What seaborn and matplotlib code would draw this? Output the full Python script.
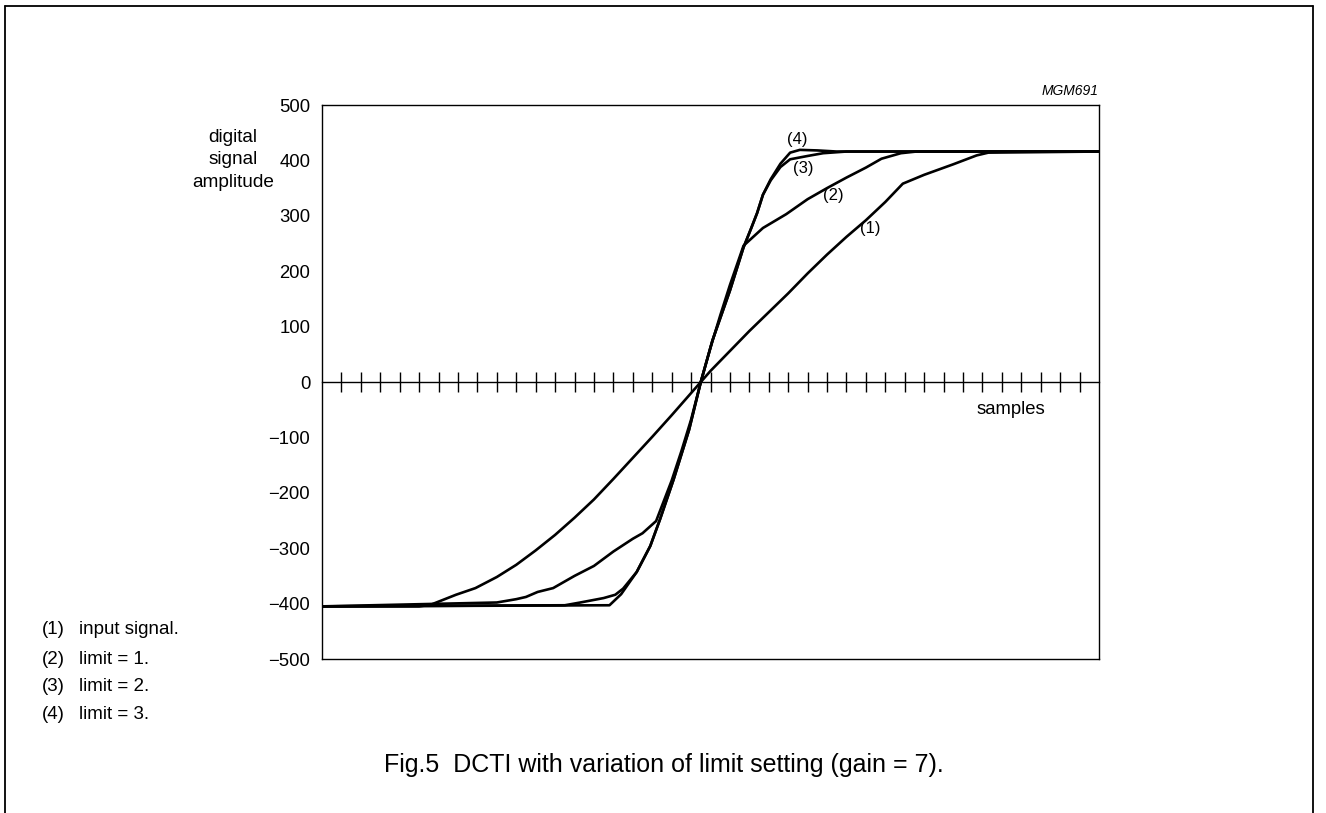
import matplotlib
matplotlib.use("Agg")
import matplotlib.pyplot as plt
from matplotlib.lines import Line2D
import seaborn as sns

# ── data (x in samples, y in amplitude) ─────────────────────────────────
x_input = [0, 5, 5.6, 6.9, 7.9, 9, 10, 11, 12, 13, 14, 15, 16, 17, 18, 19, 19.5,
           20, 21, 22, 23, 24, 25, 26, 27, 28, 29, 29.9, 31, 32.5, 33.7, 34.3, 40]
y_input = [-405, -405, -402, -384, -372, -352, -330, -304, -276, -245, -212, -175,
           -137, -99, -60, -20, 0, 20, 56, 92, 126, 160, 196, 230, 262, 292, 325,
           358, 374, 393, 409, 414, 416]

x_lim1 = [0, 9, 10, 10.5, 11.1, 11.9, 13, 14, 15, 16, 16.5, 17.2, 18, 18.5, 19,
          19.5, 20, 20.5, 21, 21.7, 22.7, 23.9, 25, 26, 27, 28, 28.8, 29.8, 30.6, 40]
y_lim1 = [-405, -398, -392, -388, -379, -372, -350, -332, -306, -283, -273, -251,
          -178, -125, -68, 0, 62, 120, 175, 246, 278, 303, 330, 350, 369, 387, 403,
          413, 416, 416]

x_lim2 = [0, 12.5, 13.3, 14.5, 15.1, 15.5, 16.2, 16.9, 17.4, 18.1, 18.9, 19.5,
          20.1, 21.0, 21.7, 22.1, 22.4, 22.7, 23.1, 23.6, 24.1, 25, 25.8, 27, 40]
y_lim2 = [-405, -403, -398, -390, -384, -373, -343, -296, -248, -176, -86, 0,
          75, 165, 243, 278, 305, 338, 364, 388, 402, 408, 413, 416, 416]

x_lim3 = [0, 14.8, 15.4, 16.2, 16.9, 17.4, 18.1, 18.9, 19.5, 20.1, 21.0, 21.7,
          22.1, 22.4, 22.7, 23.1, 23.6, 24.1, 24.6, 25.5, 26.5, 40]
y_lim3 = [-405, -403, -383, -343, -296, -248, -176, -86, 0, 75, 165, 243,
          278, 305, 338, 366, 394, 414, 419, 418, 416, 416]

curve_tags = ["(1)", "(2)", "(3)", "(4)"]
tag_x = [28.2, 26.3, 24.8, 24.45]
tag_y = [277, 336, 386, 438]
note_texts = ["input signal.", "limit = 1.", "limit = 2.", "limit = 3."]

y_ticks = list(range(-500, 501, 100))
sample_ticks = list(range(1, 40))

# ── style ───────────────────────────────────────────────────────────────
sns.set_style("white")
plt.rcParams['font.family'] = ['Liberation Sans', 'DejaVu Sans']
plt.rcParams['text.color'] = 'black'

W, H = 1326, 813
fig = plt.figure(figsize=(W / 100, H / 100), dpi=100)
ax = fig.add_axes([322 / W, 1 - 659 / H, (1099 - 322) / W, (659 - 105) / H])

for xs, ys in [(x_input, y_input), (x_lim1, y_lim1), (x_lim2, y_lim2), (x_lim3, y_lim3)]:
    sns.lineplot(x=xs, y=ys, ax=ax, color="black", linewidth=1.9,
                 sort=False, estimator=None)

ax.set_xlim(0, 40)
ax.set_ylim(-500, 500)
ax.set_xticks([])
ax.set_yticks(y_ticks)
ax.tick_params(axis="y", direction="in", length=8, width=1, labelsize=13.3,
               pad=8.5, colors="black")
for s in ax.spines.values():
    s.set_color("black")
    s.set_linewidth(1.0)

# zero line with sample ticks
secax = ax.secondary_xaxis(0.5)
secax.set_xticks(sample_ticks)
secax.tick_params(direction="inout", length=14, width=1, colors="black",
                  labeltop=False, labelbottom=False)
for s in secax.spines.values():
    s.set_color("black")
    s.set_linewidth(1.0)

# curve tags
for t, tx, ty in zip(curve_tags, tag_x, tag_y):
    ax.text(tx, ty, t, fontsize=12, ha="center", va="center")

ax.text(1.0, 1.012, "MGM691", transform=ax.transAxes, fontsize=10,
        style="italic", ha="right", va="bottom")
ax.text(0.886, 0.45, "samples", transform=ax.transAxes, fontsize=13.3,
        ha="center", va="center")

fig.text(233 / W, 1 - 160 / H, "digital\nsignal\namplitude", fontsize=13.7,
         ha="center", va="center", linespacing=1.4)

# notes on lower left
note_y = [629, 659, 686, 714]
for t, lab, ny in zip(curve_tags, note_texts, note_y):
    fig.text(42 / W, 1 - ny / H, t, fontsize=13.5, ha="left", va="center")
    fig.text(79 / W, 1 - ny / H, lab, fontsize=13.5, ha="left", va="center")

fig.text(664 / W, 1 - 765 / H,
         "Fig.5  DCTI with variation of limit setting (gain = 7).",
         fontsize=18, ha="center", va="center")

# outer frame, open at the bottom
frame = dict(color="black", linewidth=1.3, transform=fig.transFigure)
fig.add_artist(Line2D([5 / W, 5 / W], [0, 1 - 6 / H], **frame))
fig.add_artist(Line2D([5 / W, 1313 / W], [1 - 6 / H, 1 - 6 / H], **frame))
fig.add_artist(Line2D([1313 / W, 1313 / W], [0, 1 - 6 / H], **frame))

fig.savefig("out.png", dpi=100)
